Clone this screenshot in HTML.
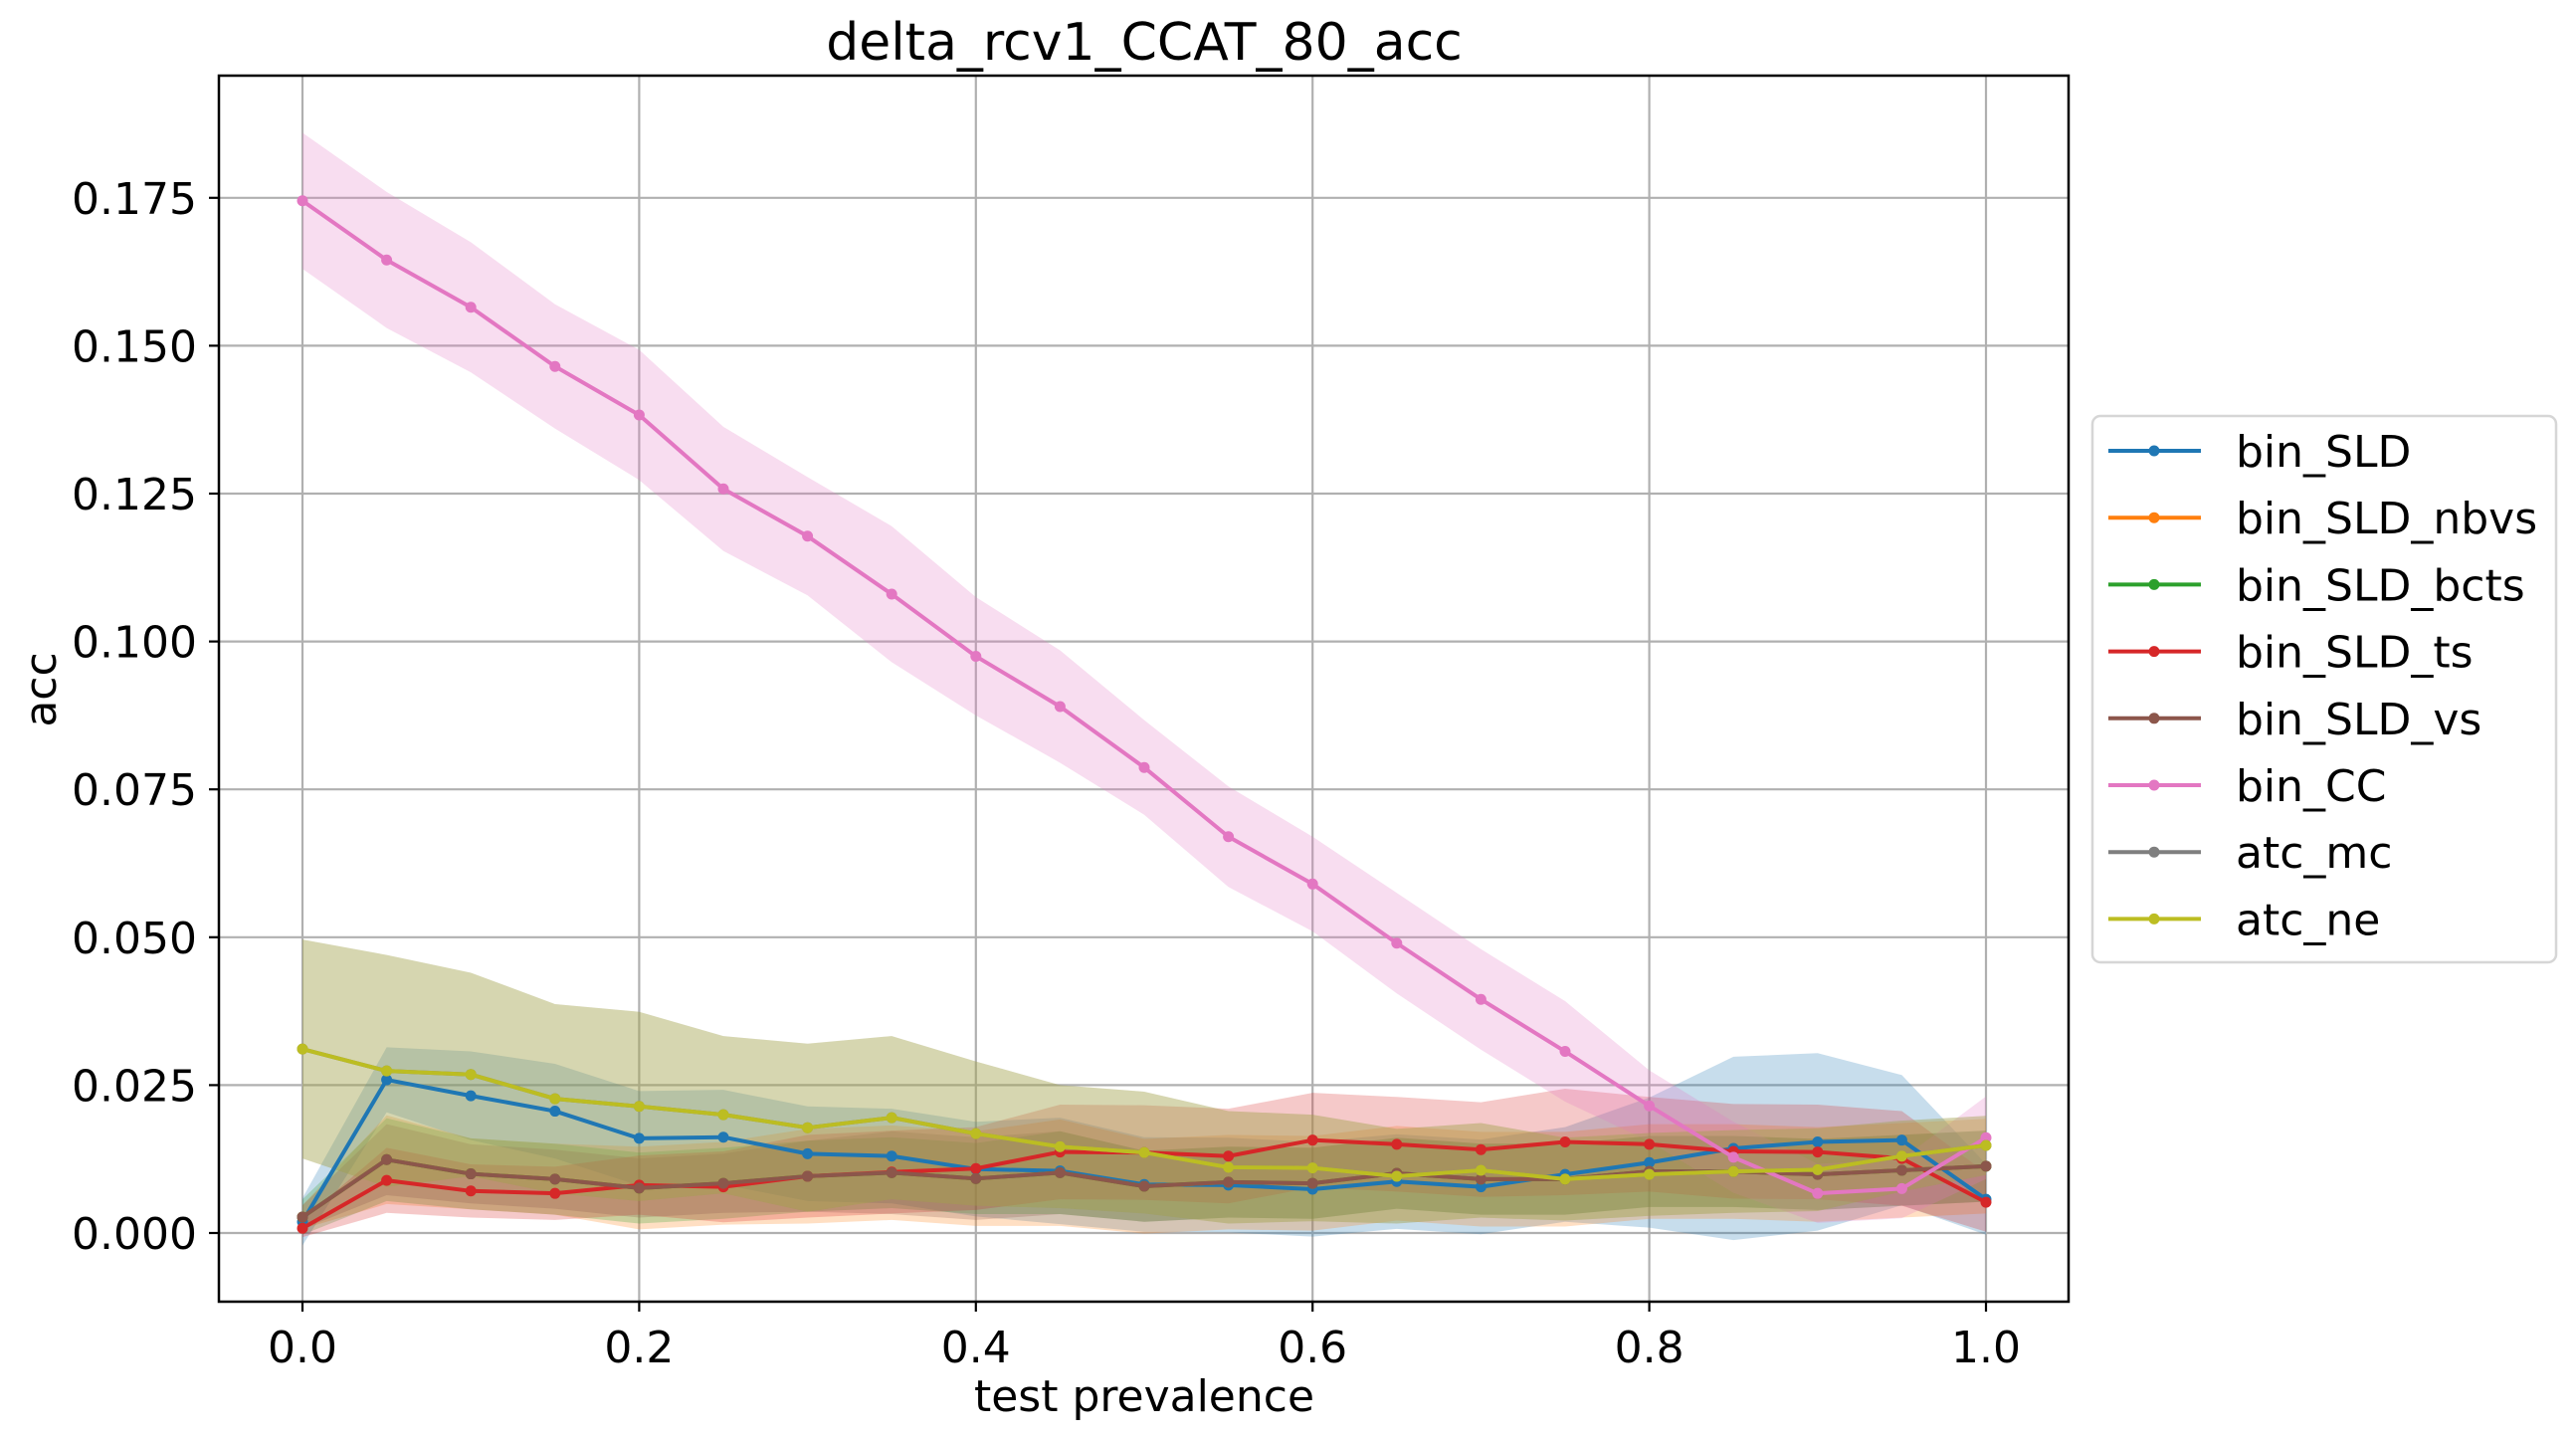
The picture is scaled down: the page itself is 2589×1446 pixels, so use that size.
<!DOCTYPE html>
<html><head><meta charset="utf-8">
<style>
html,body{margin:0;padding:0;background:#fff;}
svg{display:block;font-family:"DejaVu Sans","Liberation Sans",sans-serif;}
</style></head>
<body>
<svg id="chart" width="2589" height="1446" viewBox="0 0 2589 1446" xmlns="http://www.w3.org/2000/svg">
<rect x="0" y="0" width="2589" height="1446" fill="#fff"/>
<text x="1150" y="60" font-size="52" text-anchor="middle">delta_rcv1_CCAT_80_acc</text>
<g id="grid"></g>
<g id="fills"></g>
<g id="lines"></g>
<rect x="220" y="76" width="1859" height="1232" fill="none" stroke="#000" stroke-width="2.5"/>
<g id="axes"></g>
<text x="1150" y="1418" font-size="44" text-anchor="middle">test prevalence</text>
<text x="0" y="0" font-size="44" text-anchor="middle" transform="translate(56,693) rotate(-90)">acc</text>
<g id="legend"></g>
</svg>
<script>
const prevalence = [0,0.05,0.1,0.15,0.2,0.25,0.3,0.35,0.4,0.45,0.5,0.55,0.6,0.65,0.7,0.75,0.8,0.85,0.9,0.95,1.0];
const xTicks = [0,0.2,0.4,0.6,0.8,1.0];
const xTickLabels = ["0.0","0.2","0.4","0.6","0.8","1.0"];
const yTicks = [0,0.025,0.05,0.075,0.1,0.125,0.15,0.175];
const yTickLabels = ["0.000","0.025","0.050","0.075","0.100","0.125","0.150","0.175"];
const seriesNames = ["bin_SLD","bin_SLD_nbvs","bin_SLD_bcts","bin_SLD_ts","bin_SLD_vs","bin_CC","atc_mc","atc_ne"];
const seriesColors = ["#1f77b4","#ff7f0e","#2ca02c","#d62728","#8c564b","#e377c2","#7f7f7f","#bcbd22"];
const binSLD = [0.0019,0.0259,0.0232,0.0206,0.016,0.0162,0.0134,0.013,0.0108,0.0105,0.0082,0.0081,0.0074,0.0087,0.0078,0.0099,0.0119,0.0143,0.0154,0.0157,0.0057];
const binSLDsd = [0.004,0.0055,0.0075,0.008,0.008,0.008,0.008,0.008,0.008,0.009,0.008,0.008,0.008,0.008,0.008,0.008,0.011,0.0155,0.015,0.011,0.006];
const binSLDnbvs = [0.0027,0.0124,0.0100,0.0091,0.0076,0.0084,0.0096,0.0102,0.0092,0.0102,0.0079,0.0086,0.0084,0.0101,0.0091,0.0091,0.0104,0.0104,0.0099,0.0106,0.0113];
const binSLDnbvsSd = [0.002,0.0075,0.006,0.006,0.007,0.007,0.008,0.008,0.008,0.009,0.008,0.008,0.008,0.008,0.008,0.008,0.008,0.008,0.008,0.008,0.008];
const binSLDbcts = [0.0027,0.0124,0.0100,0.0091,0.0076,0.0084,0.0096,0.0102,0.0092,0.0102,0.0079,0.0086,0.0084,0.0101,0.0091,0.0091,0.0104,0.0104,0.0099,0.0106,0.0113];
const binSLDbctsSd = [0.003,0.007,0.006,0.006,0.006,0.006,0.006,0.006,0.006,0.007,0.006,0.006,0.006,0.006,0.006,0.006,0.006,0.006,0.006,0.006,0.006];
const binSLDts = [0.0008,0.0089,0.0071,0.0067,0.0081,0.0078,0.0096,0.0103,0.0109,0.0137,0.0136,0.0130,0.0157,0.0150,0.0141,0.0154,0.0150,0.0138,0.0137,0.0126,0.0052];
const binSLDtsSd = [0.0015,0.0055,0.0045,0.0045,0.005,0.006,0.007,0.007,0.007,0.008,0.008,0.008,0.008,0.008,0.008,0.009,0.008,0.008,0.008,0.008,0.005];
const binSLDvs = [0.0027,0.0124,0.0100,0.0091,0.0076,0.0084,0.0096,0.0102,0.0092,0.0102,0.0079,0.0086,0.0084,0.0101,0.0091,0.0091,0.0104,0.0104,0.0099,0.0106,0.0113];
const binSLDvsSd = [0.002,0.006,0.005,0.005,0.005,0.005,0.006,0.007,0.007,0.007,0.006,0.006,0.006,0.006,0.006,0.006,0.006,0.006,0.006,0.006,0.006];
const binCC = [0.1745,0.1645,0.1565,0.1465,0.1383,0.1258,0.1178,0.108,0.0975,0.089,0.0787,0.067,0.059,0.049,0.0395,0.0307,0.0215,0.0128,0.0067,0.0075,0.0161];
const binCCsd = [0.0115,0.0115,0.011,0.0105,0.011,0.0105,0.0100,0.0115,0.0100,0.0095,0.0080,0.0085,0.0080,0.0085,0.0085,0.0085,0.0060,0.0060,0.0050,0.0050,0.0070];
const atcMc = [0.0311,0.0274,0.0268,0.0227,0.0214,0.020,0.0178,0.0195,0.0168,0.0146,0.0136,0.0111,0.011,0.0096,0.0106,0.0091,0.0099,0.0104,0.0107,0.0130,0.0148];
const atcMcSd = [0.0185,0.0196,0.0172,0.016,0.016,0.0133,0.0142,0.0138,0.0122,0.0104,0.0103,0.0095,0.009,0.008,0.008,0.007,0.007,0.007,0.007,0.006,0.005];
const atcNe = [0.0311,0.0274,0.0268,0.0227,0.0214,0.020,0.0178,0.0195,0.0168,0.0146,0.0136,0.0111,0.011,0.0096,0.0106,0.0091,0.0099,0.0104,0.0107,0.0130,0.0148];
const atcNeSd = [0.0185,0.0196,0.0172,0.016,0.016,0.0133,0.0142,0.0138,0.0122,0.0104,0.0103,0.0095,0.009,0.008,0.008,0.007,0.007,0.007,0.007,0.006,0.005];

const NS = "http://www.w3.org/2000/svg";
const X0 = 304, X1 = 1996, Y0 = 1239, YPX = 5944;
function xScale(v){ return X0 + v*(X1-X0); }
function yScale(v){ return Y0 - v*YPX; }
function mk(tag, attrs, parent){ const e=document.createElementNS(NS,tag); for(const k in attrs) e.setAttribute(k,attrs[k]); parent.appendChild(e); return e; }

const grid=document.getElementById('grid'), axes=document.getElementById('axes');
xTicks.forEach((t,i)=>{
  const x=xScale(t);
  const g=mk('line',{x1:x,x2:x,y1:76,y2:1308,stroke:'#b0b0b0','stroke-width':2.2},grid);
  
  
  const tk=mk('line',{x1:x,x2:x,y1:1308,y2:1318,stroke:'#000','stroke-width':2.2},axes);
  
  
  const lb=mk('text',{x:x,y:1369,'font-size':44,'text-anchor':'middle'},axes);
  lb.textContent=xTickLabels[i];
  
  
});
yTicks.forEach((t,i)=>{
  const y=yScale(t);
  const g=mk('line',{x1:220,x2:2079,y1:y,y2:y,stroke:'#b0b0b0','stroke-width':2.2},grid);
  
  
  const tk=mk('line',{x1:210,x2:220,y1:y,y2:y,stroke:'#000','stroke-width':2.2},axes);
  
  
  const lb=mk('text',{x:198,y:y+16,'font-size':44,'text-anchor':'end'},axes);
  lb.textContent=yTickLabels[i];
  
  
});

const means=[binSLD,binSLDnbvs,binSLDbcts,binSLDts,binSLDvs,binCC,atcMc,atcNe];
const sds=[binSLDsd,binSLDnbvsSd,binSLDbctsSd,binSLDtsSd,binSLDvsSd,binCCsd,atcMcSd,atcNeSd];
const fills=document.getElementById('fills'), lines=document.getElementById('lines');
means.forEach((m,s)=>{
  const up=m.map((v,i)=>xScale(prevalence[i])+','+yScale(v+sds[s][i]));
  const lo=m.map((v,i)=>xScale(prevalence[i])+','+yScale(v-sds[s][i])).reverse();
  const p=mk('polygon',{points:up.concat(lo).join(' '),fill:seriesColors[s],'fill-opacity':0.25},fills);
  
  
});
means.forEach((m,s)=>{
  const g=mk('g',{},lines);
  
  
  const pl=mk('polyline',{points:m.map((v,i)=>xScale(prevalence[i])+','+yScale(v)).join(' '),fill:'none',stroke:seriesColors[s],'stroke-width':4,'stroke-linejoin':'round'},g);
  
  
  m.forEach((v,i)=>{
    const c=mk('circle',{cx:xScale(prevalence[i]),cy:yScale(v),r:5.5,fill:seriesColors[s]},g);
    
    
  });
});

const lg=document.getElementById('legend');


const box=mk('rect',{x:2103,y:418,width:466,height:549,rx:8,fill:'#fff','fill-opacity':0.8,stroke:'#d6d6d6','stroke-width':2.5},lg);


seriesNames.forEach((n,s)=>{
  const y=453+s*67.2;
  const g=mk('g',{},lg);
  
  
  mk('line',{x1:2119,x2:2212,y1:y,y2:y,stroke:seriesColors[s],'stroke-width':4},g);
  mk('circle',{cx:2165,cy:y,r:5.5,fill:seriesColors[s]},g);
  const t=mk('text',{x:2247,y:y+16,'font-size':44},g);
  t.textContent=n;
});
</script>
</body></html>
